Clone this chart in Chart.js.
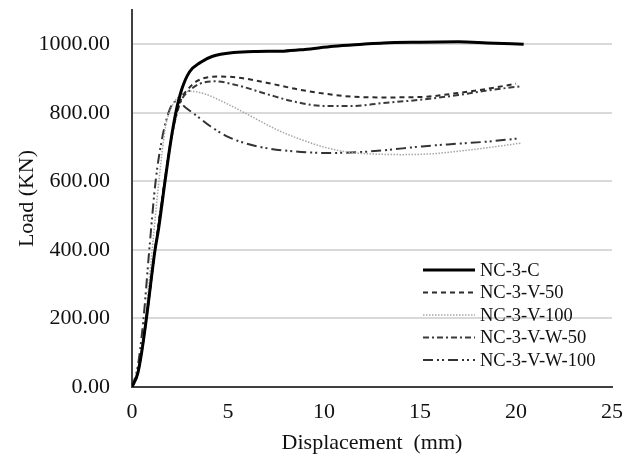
<!DOCTYPE html>
<html>
<head>
<meta charset="utf-8">
<script src="https://cdn.jsdelivr.net/npm/chart.js@4/dist/chart.umd.min.js"></script>
<style>
  body { margin: 0; background: #fff; }
  #wrap { width: 630px; height: 464px; }
</style>
</head>
<body>
<div id="wrap"><canvas id="myChart" width="630" height="464"></canvas></div>
<script>
// DATA (displacement mm / load KN)
const seriesNames = ['NC-3-C', 'NC-3-V-50', 'NC-3-V-100', 'NC-3-V-W-50', 'NC-3-V-W-100'];

const cX = [0, 0.3, 0.5, 0.75, 1.2, 1.38, 1.72, 2.0, 2.28, 2.6, 3.0, 3.56, 4.2, 5.3, 6.5, 7.9, 9.0, 10.5, 12, 13.1, 15, 17, 18.5, 20.4];
const cY = [0, 40, 100, 200, 400, 460, 600, 710, 800, 870, 920, 947, 965, 976, 979, 980, 985, 994, 1000, 1004, 1006, 1007, 1004, 1000];

const v50X = [0, 0.3, 0.5, 0.75, 1.2, 1.7, 2.0, 2.3, 2.6, 2.9, 3.4, 4.45, 5.5, 7, 8.5, 10, 11.5, 13.1, 15, 17, 18.5, 20.0];
const v50Y = [0, 40, 100, 200, 400, 600, 710, 795, 845, 868, 893, 906, 903, 888, 870, 856, 847, 845, 846, 858, 870, 885];

const v100X = [0, 0.3, 0.5, 0.7, 1.05, 1.4, 1.75, 2.05, 2.4, 3.0, 3.8, 5, 6.2, 7.5, 8.8, 10, 11.4, 12.5, 14, 15.5, 17, 18.5, 20.3];
const v100Y = [0, 50, 110, 200, 400, 600, 760, 815, 845, 863, 855, 825, 790, 752, 722, 700, 684, 680, 678, 680, 688, 698, 712];

const vw50X = [0, 0.3, 0.5, 0.75, 1.2, 1.7, 2.0, 2.3, 2.6, 3.0, 3.5, 4.3, 5.5, 7, 8.5, 10, 11.5, 13, 15, 17, 18.5, 20.3];
const vw50Y = [0, 40, 100, 200, 400, 600, 710, 790, 840, 865, 884, 892, 880, 855, 832, 820, 820, 828, 838, 852, 865, 878];

const vw100X = [0, 0.3, 0.6, 0.9, 1.23, 1.55, 1.9, 2.1, 2.35, 2.8, 3.4, 4.1, 5.0, 5.8, 7, 8.8, 10, 11.4, 13, 15.1, 17, 18.5, 20.1];
const vw100Y = [0, 60, 200, 400, 600, 720, 800, 825, 834, 815, 790, 760, 730, 713, 697, 686, 683, 684, 690, 702, 710, 716, 725];

const xTicks = [0, 5, 10, 15, 20, 25];
const yTicks = [0, 200, 400, 600, 800, 1000];

function pts(xs, ys) {
  return xs.map((x, i) => ({ x: x, y: ys[i] }));
}

// LINE STYLES
const styles = [
  { color: '#000000', width: 3, dash: [] },
  { color: '#2b2b2b', width: 2, dash: [5, 4] },
  { color: '#a6a6a6', width: 1.5, dash: [1.5, 1.5] },
  { color: '#3a3a3a', width: 2, dash: [6, 3, 2, 3] },
  { color: '#333333', width: 2, dash: [10, 4, 2, 3, 2, 4] },
];

const allData = [pts(cX, cY), pts(v50X, v50Y), pts(v100X, v100Y), pts(vw50X, vw50Y), pts(vw100X, vw100Y)];

const datasets = seriesNames.map((name, i) => ({
  label: name,
  data: allData[i],
  borderColor: styles[i].color,
  borderWidth: styles[i].width,
  borderDash: styles[i].dash,
  pointRadius: 0,
  fill: false,
  cubicInterpolationMode: 'monotone',
  order: i, // solid one on top
}));

//LEGEND INSIDE PLOT
const insideLegend = {
  id: 'insideLegend',
  afterDatasetsDraw(chart) {
    const ctx = chart.ctx;
    const area = chart.chartArea;
    const x0 = area.right - 189;
    const y0 = area.bottom - 117;
    ctx.save();
    ctx.font = '18.5px "Liberation Serif", "Times New Roman", serif';
    ctx.textBaseline = 'middle';
    ctx.fillStyle = '#111';
    chart.data.datasets.forEach((ds, i) => {
      const y = y0 + i * 22.5;
      ctx.beginPath();
      ctx.strokeStyle = ds.borderColor;
      ctx.lineWidth = ds.borderWidth;
      ctx.setLineDash(ds.borderDash);
      ctx.moveTo(x0, y);
      ctx.lineTo(x0 + 52, y);
      ctx.stroke();
      ctx.setLineDash([]);
      ctx.fillText(ds.label, x0 + 57, y + 1);
    });
    ctx.restore();
  },
};

const serif = '"Liberation Serif", "Times New Roman", serif';

new Chart(document.getElementById('myChart'), {
  type: 'line',
  data: { datasets: datasets },
  plugins: [insideLegend],
  options: {
    responsive: false,
    animation: false,
    layout: { padding: { left: 0, right: 18, top: 10, bottom: 0 } },
    plugins: {
      legend: { display: false },
      tooltip: { enabled: false },
    },
    scales: {
      x: {
        type: 'linear',
        min: 0,
        max: 25,
        afterBuildTicks: (axis) => { axis.ticks = xTicks.map((v) => ({ value: v })); },
        afterFit: (scale) => {
          scale.height = 77;
          scale.paddingLeft = 0;
          scale.paddingRight = 0;
        },
        grid: { drawOnChartArea: false, drawTicks: false },
        border: { display: true, color: '#404040', width: 2 },
        ticks: {
          padding: 12,
          color: '#111',
          font: { family: serif, size: 22 },
          maxRotation: 0,
        },
        title: {
          display: true,
          text: 'Displacement  (mm)',
          color: '#111',
          font: { family: serif, size: 22 },
          padding: { top: 0, bottom: 8 },
        },
      },
      y: {
        min: 0,
        max: 1100,
        afterBuildTicks: (axis) => { axis.ticks = yTicks.map((v) => ({ value: v })); },
        afterFit: (scale) => {
          scale.width = 132;
          scale.paddingTop = 0;
          scale.paddingBottom = 0;
        },
        grid: { color: '#d9d9d9', lineWidth: 2, drawTicks: false },
        border: { display: true, color: '#404040', width: 2 },
        ticks: {
          padding: 22,
          color: '#111',
          font: { family: serif, size: 22 },
          callback: (v) => v.toFixed(2),
        },
        title: {
          display: true,
          text: 'Load (KN)',
          color: '#111',
          font: { family: serif, size: 22 },
          padding: { top: 14, bottom: 0 },
        },
      },
    },
  },
});
</script>
</body>
</html>
